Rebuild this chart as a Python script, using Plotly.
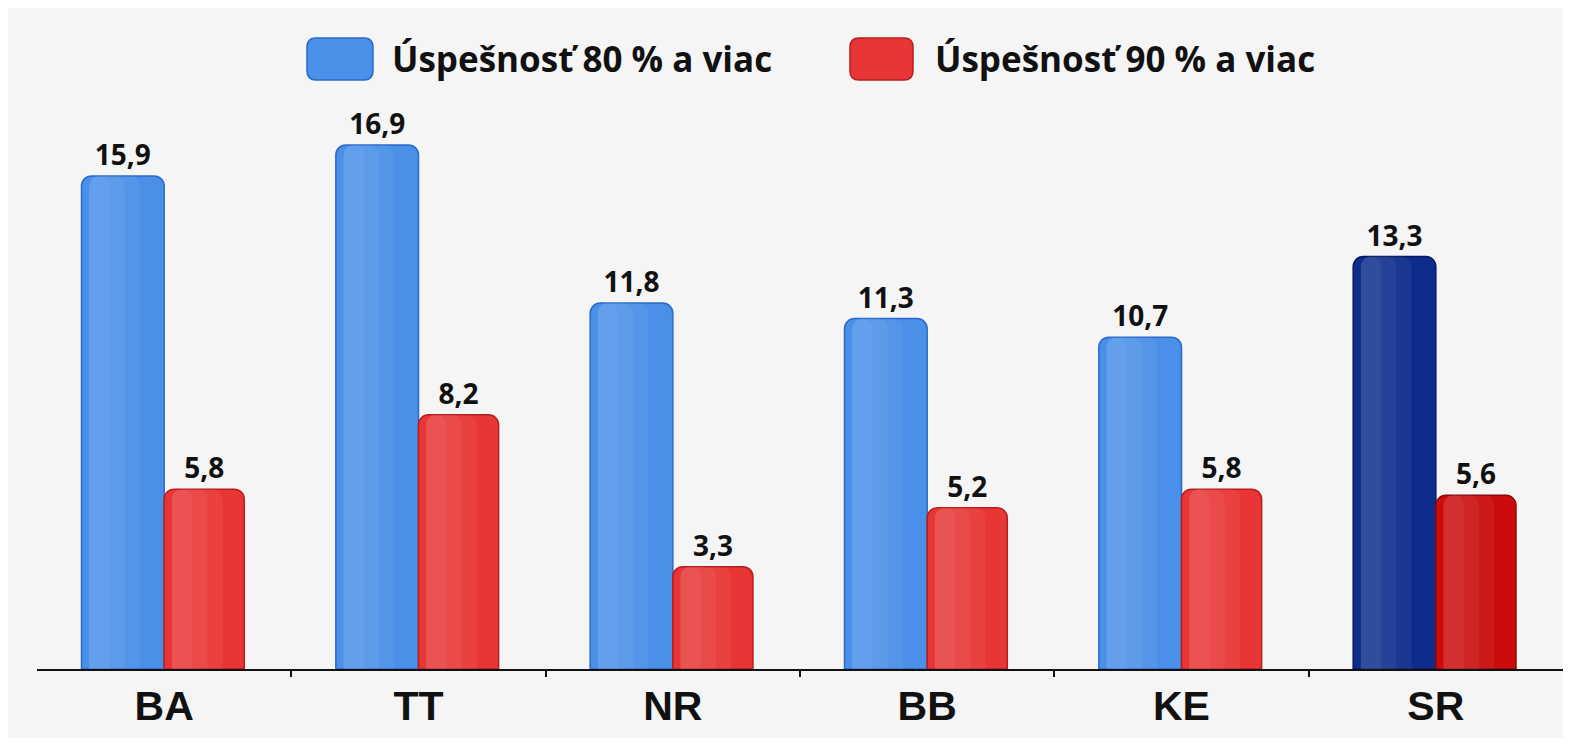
import plotly.graph_objects as go

categories = ["BA", "TT", "NR", "BB", "KE", "SR"]
series_names = ["Úspešnosť 80 % a viac", "Úspešnosť 90 % a viac"]
success_80 = [15.9, 16.9, 11.8, 11.3, 10.7, 13.3]
success_90 = [5.8, 8.2, 3.3, 5.2, 5.8, 5.6]

# colours: last region (SR = whole Slovakia) is highlighted in darker shades
blue_fill = ["#4a8fe8"] * 5 + ["#0d2c8c"]
blue_edge = ["#2a6acb"] * 5 + ["#061a5e"]
red_fill = ["#e83535"] * 5 + ["#cc0c0c"]
red_edge = ["#b81e1e"] * 5 + ["#8e0606"]

# the page adds an 8px body margin, so the figure is a bit smaller than the window
PAGE_OFF = 8
W, H = 1555, 730
ML, MR, MT, MB = 29, 0, 92, 69
plot_w = W - ML - MR
plot_h = H - MT - MB


def px_to_paper(x, y):
    # page pixel -> paper fraction
    x -= PAGE_OFF
    y -= PAGE_OFF
    return (x - ML) / plot_w, (H - MB - y) / plot_h


def rounded_rect(x0, y0, x1, y1, r):
    def p(x, y):
        px, py = px_to_paper(x, y)
        return f"{px:.5f},{py:.5f}"
    return (
        f"M {p(x0 + r, y0)} L {p(x1 - r, y0)} Q {p(x1, y0)} {p(x1, y0 + r)} "
        f"L {p(x1, y1 - r)} Q {p(x1, y1)} {p(x1 - r, y1)} "
        f"L {p(x0 + r, y1)} Q {p(x0, y1)} {p(x0, y1 - r)} "
        f"L {p(x0, y0 + r)} Q {p(x0, y0)} {p(x0 + r, y0)} Z"
    )


label_font = dict(family="Open Sans, Noto Sans, sans-serif", size=28, color="#111111", weight=700)

fig = go.Figure()
fig.add_trace(go.Bar(
    x=categories, y=success_80, name=series_names[0],
    offset=-0.325, width=0.325,
    marker=dict(color=blue_fill, line=dict(color=blue_edge, width=1.5)),
    texttemplate="%{y:.1f}", textposition="outside", textfont=label_font,
    cliponaxis=False, hoverinfo="skip",
))
fig.add_trace(go.Bar(
    x=categories, y=success_90, name=series_names[1],
    offset=0, width=0.315,
    marker=dict(color=red_fill, line=dict(color=red_edge, width=1.5)),
    texttemplate="%{y:.1f}", textposition="outside", textfont=label_font,
    cliponaxis=False, hoverinfo="skip",
))

# stacked translucent strips -> soft glossy highlight on the left of each bar
for vals, off in [(success_80, -0.325), (success_90, 0)]:
    for w in (0.20, 0.14, 0.08):
        fig.add_trace(go.Bar(
            x=categories, y=vals, offset=off + 0.03, width=w,
            marker=dict(color="rgba(255,255,255,0.055)", line=dict(width=0)),
            hoverinfo="skip", showlegend=False,
        ))

# invisible helper so the boundary-tick axis gets drawn
fig.add_trace(go.Scatter(
    x=[i + 0.5 for i in range(len(categories) - 1)], y=[0] * (len(categories) - 1),
    xaxis="x2", mode="markers", marker=dict(opacity=0), hoverinfo="skip", showlegend=False,
))

# hand-made legend with big rounded swatches (page pixel positions)
legend_items = [
    (307, 373, blue_fill[0], blue_edge[0], 390, series_names[0]),
    (850, 913, red_fill[0], red_edge[0], 933, series_names[1]),
]
shapes, annotations = [], []
for x0, x1, fill, edge, tx, txt in legend_items:
    shapes.append(dict(
        type="path", xref="paper", yref="paper",
        path=rounded_rect(x0, 38, x1, 80, 9),
        fillcolor=fill, line=dict(color=edge, width=1.5),
    ))
    ax, ay = px_to_paper(tx, 59)
    annotations.append(dict(
        x=ax, y=ay, xref="paper", yref="paper", text=txt, showarrow=False,
        xanchor="left", yanchor="middle",
        font=dict(family="Open Sans, Noto Sans, sans-serif", size=35, color="#111111", weight=700),
    ))

fig.update_layout(
    width=W, height=H,
    margin=dict(l=ML, r=MR, t=MT, b=MB),
    paper_bgcolor="#f5f5f5", plot_bgcolor="rgba(0,0,0,0)",
    barmode="overlay", barcornerradius=10,
    separators=", ",
    showlegend=False,
    shapes=shapes, annotations=annotations,
    xaxis=dict(
        type="category", categoryorder="array", categoryarray=categories,
        range=[-0.5, len(categories) - 0.5],
        showline=True, linecolor="#111111", linewidth=2,
        ticks="", showgrid=False, zeroline=False,
        tickfont=dict(family="Liberation Sans, Arial, sans-serif", size=41, color="#111111", weight=700),
    ),
    xaxis2=dict(
        overlaying="x", anchor="y", side="bottom",
        range=[-0.5, len(categories) - 0.5],
        tickmode="array", tickvals=[i + 0.5 for i in range(len(categories) - 1)],
        ticks="outside", ticklen=7, tickwidth=2, tickcolor="#111111",
        showticklabels=False, showgrid=False, zeroline=False, showline=False,
    ),
    yaxis=dict(
        range=[0, 18.35], visible=False, showgrid=False, zeroline=False,
    ),
)

fig.write_html("out.html")
